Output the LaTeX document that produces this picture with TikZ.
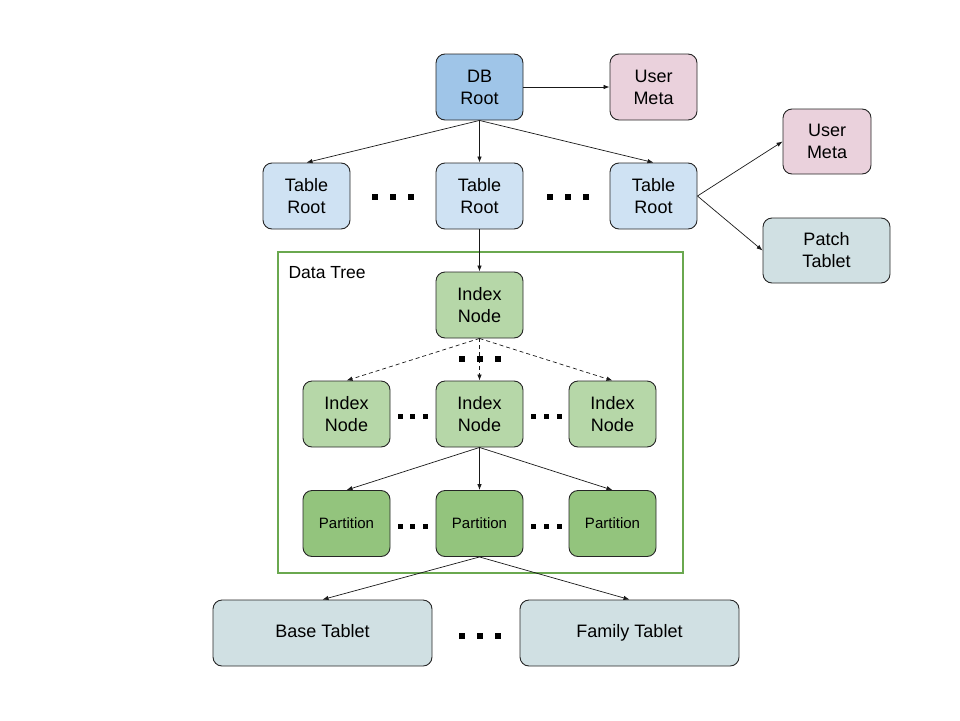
\documentclass[tikz,border=0pt]{standalone}
\usepackage{fontspec}
\setmainfont{Liberation Sans}
\usetikzlibrary{arrows.meta}
\definecolor{dbc}{HTML}{9FC5E8}
\definecolor{trc}{HTML}{CFE2F3}
\definecolor{umc}{HTML}{EAD1DC}
\definecolor{tbc}{HTML}{D0E0E3}
\definecolor{inc}{HTML}{B6D7A8}
\definecolor{pac}{HTML}{93C47D}
\definecolor{dtc}{HTML}{6AA84F}
\begin{document}
\begin{tikzpicture}[x=1pt,y=-1pt,
  box/.style={draw=black!85, line width=0.9pt, rounded corners=9pt,
    minimum width=87pt, minimum height=66pt, align=center, inner sep=0pt,
    font=\fontsize{18}{22}\selectfont},
  small/.style={font=\fontsize{15}{18}\selectfont},
  wide/.style={minimum width=219pt, minimum height=66pt, text height=13pt, text depth=4pt},
  arr/.style={draw=black!90, line width=0.7pt, -{Latex[length=6pt,width=4.5pt]}},
  dsh/.style={arr, dash pattern=on 4pt off 3pt},
  sq/.style={fill=black, minimum size=6pt, inner sep=0pt},
  sqs/.style={fill=black, minimum size=5pt, inner sep=0pt}]
\useasboundingbox (0,0) rectangle (960,720);

% data tree frame
\draw[dtc, line width=1.6pt] (278,252) rectangle (683,573);
\node[anchor=west, font=\fontsize{17.5}{21}\selectfont] (dtl) at (285,273) {Data Tree};

% top
\node[box, fill=dbc] (db) at (479.5,87) {DB\\Root};
\node[box, fill=umc] (um1) at (653.5,87) {User\\Meta};
\node[box, fill=trc] (tr1) at (306.5,196) {Table\\Root};
\node[box, fill=trc] (tr2) at (479.5,196) {Table\\Root};
\node[box, fill=trc] (tr3) at (653.5,196) {Table\\Root};
\node[box, fill=umc, minimum width=88pt, minimum height=65pt] (um2) at (827,141.5) {User\\Meta};
\node[box, fill=tbc, minimum width=127pt, minimum height=65pt] (pt) at (826.5,250.5) {Patch\\Tablet};

% data tree
\node[box, fill=inc] (in0) at (479.5,305) {Index\\Node};
\node[box, fill=inc] (in1) at (346.5,414) {Index\\Node};
\node[box, fill=inc] (in2) at (479.5,414) {Index\\Node};
\node[box, fill=inc] (in3) at (612.5,414) {Index\\Node};
\node[box, small, fill=pac] (p1) at (346.5,523.5) {Partition};
\node[box, small, fill=pac] (p2) at (479.5,523.5) {Partition};
\node[box, small, fill=pac] (p3) at (612.5,523.5) {Partition};

% bottom
\node[box, wide, fill=tbc] (bt) at (322.5,633) {Base Tablet};
\node[box, wide, fill=tbc] (ft) at (629.5,633) {Family Tablet};

% arrows
\draw[arr] (db) -- (um1);
\draw[arr] (db.south) -- (tr1.north);
\draw[arr] (db.south) -- (tr2.north);
\draw[arr] (db.south) -- (tr3.north);
\draw[arr] (tr3.east) -- (um2.west);
\draw[arr] (tr3.east) -- (pt.west);
\draw[arr] (tr2.south) -- (in0.north);
\draw[dsh] (in0.south) -- (in1.north);
\draw[dsh] (in0.south) -- (in2.north);
\draw[dsh] (in0.south) -- (in3.north);
\draw[arr] (in2.south) -- (p1.north);
\draw[arr] (in2.south) -- (p2.north);
\draw[arr] (in2.south) -- (p3.north);
\draw[arr] (p2.south) -- (bt.north);
\draw[arr] (p2.south) -- (ft.north);

% ellipsis squares
\foreach \x [count=\i] in {375,393,411} \node[sq] (da\i) at (\x,197) {};
\foreach \x [count=\i] in {550,568,586} \node[sq] (db\i) at (\x,197) {};
\foreach \x [count=\i] in {462,480,498} \node[sq] (dc\i) at (\x,359) {};
\foreach \x [count=\i] in {400,412.5,425} \node[sqs] (dd\i) at (\x,416) {};
\foreach \x [count=\i] in {533,546,559} \node[sqs] (de\i) at (\x,416) {};
\foreach \x [count=\i] in {400,412.5,425} \node[sqs] (df\i) at (\x,526) {};
\foreach \x [count=\i] in {533,546,559} \node[sqs] (dg\i) at (\x,526) {};
\foreach \x [count=\i] in {462,480,498} \node[sq] (dh\i) at (\x,636) {};
\end{tikzpicture}
\end{document}
